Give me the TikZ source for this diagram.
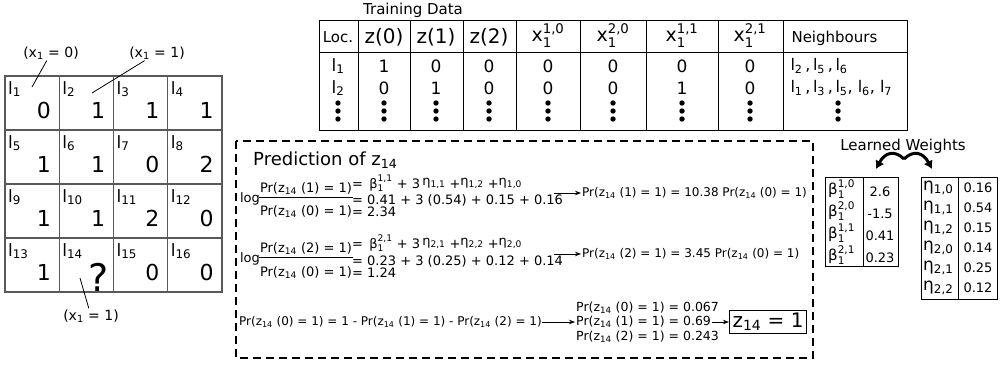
\documentclass[tikz,border=0pt]{standalone}
\usepackage{amsmath}
\usepackage{fontspec}
\setmainfont{DejaVu Sans}
\usetikzlibrary{arrows.meta}

\newcommand\prz[1]{Pr(z\textsubscript{14} (#1) = 1)}
\newcommand\lsub[1]{l\textsubscript{#1}}
\newcommand\xhead[1]{$\text{x}^{\text{#1}}_{\text{1}}$}
\newcommand\bw[1]{$\text{β}^{\text{#1}}_{\text{1}}$}
\newcommand\ew[1]{η\textsubscript{#1}}
\newcommand\fs[1]{\fontsize{#1}{#1}\selectfont}

\begin{document}
\begin{tikzpicture}[x=1pt,y=-1pt,
  gridline/.style={draw=black!65,line width=1.1pt},
  tabline/.style={draw=black,line width=1pt},
  celllab/.style={anchor=north west,inner sep=0pt,font=\fs{17}},
  cellval/.style={anchor=base east,inner sep=0pt,font=\fs{22}},
  note/.style={inner sep=1pt,font=\fs{14}},
  eqtext/.style={inner sep=1pt,font=\fs{13}},
  restext/.style={inner sep=1pt,font=\fs{12}},
  eqarrow/.style={-{Stealth[length=6pt,width=4.5pt]},line width=0.8pt},
  bigarrow/.style={-{Latex[length=8pt,width=10pt]},line width=3pt},
  predbox/.style={draw,line width=1.3pt,dash pattern=on 8pt off 5pt}]
\useasboundingbox (0,0) rectangle (1000,369);

% grid of locations
\foreach \v [count=\i from 0] in {0,1,1,1,1,1,0,2,1,1,2,0,1,,0,0} {
  \pgfmathtruncatemacro\c{mod(\i,4)}
  \pgfmathtruncatemacro\r{int(\i/4)}
  \pgfmathtruncatemacro\n{\i+1}
  \pgfmathsetmacro\cx{5+54.25*\c}
  \pgfmathsetmacro\cy{76+54*\r}
  \draw[gridline] (\cx,\cy) rectangle ++(54.25,54);
  \node[celllab] (l\n) at (\cx+3,\cy+5) {\lsub{\n}};
  \node[cellval] (v\n) at (\cx+46,\cy+42) {\v};
}
\node[anchor=base,inner sep=0pt,font=\fs{38}] (q14) at (99,291) {?};

\node[note] (ann0) at (51,53) {(x\textsubscript{1} = 0)};
\node[note] (ann1) at (157,53) {(x\textsubscript{1} = 1)};
\node[note] (ann2) at (91,316) {(x\textsubscript{1} = 1)};
\coordinate (in1) at (32,87);
\coordinate (in2) at (92,93);
\coordinate (in14) at (80,278);
\draw[line width=0.8pt] (ann0) -- (in1);
\draw[line width=0.8pt] (ann1) -- (in2);
\draw[line width=0.8pt] (ann2) -- (in14);

% training data
\node[font=\fs{15}] (train) at (413,10) {Training Data};
\draw[tabline] (319,21) rectangle (907,130);
\draw[tabline] (319,53) -- (907,53);
\foreach \x in {358,410,463,516,580,646,718,783}
  \draw[tabline] (\x,21) -- (\x,130);
\node[font=\fs{15}] (hloc) at (338,37) {Loc.};
\foreach \x/\k in {384/0,436/1,489/2}
  \node[font=\fs{20}] (hz\k) at (\x,37) {z(\k)};
\foreach \x/\s [count=\k] in {548/{1,0},613/{2,0},682/{1,1},750/{2,1}}
  \node[font=\fs{19}] (hx\k) at (\x,36) {\xhead{\s}};
\node[anchor=west,font=\fs{15}] (hnb) at (788,38) {Neighbours};
\node[font=\fs{17}] (row1) at (338,66) {\lsub{1}};
\node[font=\fs{17}] (row2) at (338,88) {\lsub{2}};
\foreach \x/\a/\b in {384/1/0,436/0/1,489/0/0,548/0/0,613/0/0,682/0/1,750/0/0} {
  \node[font=\fs{17}] (a\x) at (\x,66) {\a};
  \node[font=\fs{17}] (b\x) at (\x,88) {\b};
}
\node[anchor=west,font=\fs{16}] (nb1) at (787,66) {\lsub{2}\,,\,\lsub{5}\,,\,\lsub{6}};
\node[anchor=west,font=\fs{16}] (nb2) at (787,88) {\lsub{1}\,,\,\lsub{3}\,,\,\lsub{5}, \lsub{6}, \lsub{7}};
\foreach \x in {338,384,436,489,548,613,682,750,838}
  \foreach \d in {103,111,119}
    \fill (\x,\d) circle (2.7pt);

% prediction
\draw[predbox] (236,141) rectangle (813,358);
\node[anchor=base west,inner sep=0pt,font=\fs{18}] (pred) at (253,165) {Prediction of z\textsubscript{14}};

\node[eqtext,anchor=base] (log1) at (250,202) {log};
\node[eqtext,anchor=base] (num1) at (306,192) {\prz{1}};
\node[eqtext,anchor=base] (den1) at (306,215) {\prz{0}};
\draw[line width=0.8pt] ([yshift=-2pt]num1.south west) -- ([yshift=-2pt]num1.south east);
\node[eqtext,anchor=base west] (r1a) at (351,188) {= \,\bw{1,1} + 3\,\raisebox{3pt}{\ew{1,1}} +\raisebox{3pt}{\ew{1,2}} +\raisebox{3pt}{\ew{1,0}}};
\node[eqtext,anchor=base west] (r1b) at (351,204) {= 0.41 + 3 (0.54) + 0.15 + 0.16};
\node[eqtext,anchor=base west] (r1c) at (351,216) {= 2.34};
\coordinate (a1) at (554,193);
\node[restext,anchor=west] (res1) at (581,193) {\prz{1} = 10.38 \prz{0}};
\draw[eqarrow] (a1) -- (res1);

\node[eqtext,anchor=base] (log2) at (250,262) {log};
\node[eqtext,anchor=base] (num2) at (306,252) {\prz{2}};
\node[eqtext,anchor=base] (den2) at (306,276) {\prz{0}};
\draw[line width=0.8pt] ([yshift=-2pt]num2.south west) -- ([yshift=-2pt]num2.south east);
\node[eqtext,anchor=base west] (r2a) at (351,248) {= \,\bw{2,1} + 3\,\raisebox{3pt}{\ew{2,1}} +\raisebox{3pt}{\ew{2,2}} +\raisebox{3pt}{\ew{2,0}}};
\node[eqtext,anchor=base west] (r2b) at (351,265) {= 0.23 + 3 (0.25) + 0.12 + 0.14};
\node[eqtext,anchor=base west] (r2c) at (351,277) {= 1.24};
\coordinate (a2) at (554,254);
\node[restext,anchor=west] (res2) at (581,254) {\prz{2} = 3.45 \prz{0}};
\draw[eqarrow] (a2) -- (res2);

\node[eqtext,inner sep=0pt,anchor=west,font=\fs{12}] (e3) at (239,322) {\prz{0} = 1 - \prz{1} - \prz{2}};
\node[eqtext,anchor=west,font=\fs{12.5}] (p0) at (575,308) {\prz{0} = 0.067};
\node[eqtext,anchor=west,font=\fs{12.5}] (p1) at (575,322) {\prz{1} = 0.69};
\node[eqtext,anchor=west,font=\fs{12.5}] (p2) at (575,337) {\prz{2} = 0.243};
\node[draw,line width=1.2pt,inner sep=3pt,font=\fs{20}] (z14) at (768,322) {z\textsubscript{14} = 1};
\draw[eqarrow] (e3) -- (p1);
\draw[eqarrow] (p1) -- (z14);

% learned weights
\node[font=\fs{15}] (lw) at (903,146) {Learned Weights};
\coordinate (fork) at (904,159);
\coordinate (wl) at (876,169);
\coordinate (wr) at (932,169);
\draw[bigarrow] (fork) .. controls (895,150) and (885,152) .. (wl);
\draw[bigarrow] (fork) .. controls (913,150) and (923,152) .. (wr);

\draw[tabline] (825,177) rectangle (898,266);
\draw[tabline] (863,177) -- (863,266);
\foreach \s/\v/\y [count=\k] in {{1,0}/2.6/189,{2,0}/-1.5/211,{1,1}/0.41/233,{2,1}/0.23/255} {
  \node[anchor=west,inner sep=0pt,font=\fs{15}] (beta\k) at (828,\y) {\bw{\s}};
  \node[font=\fs{13}] (bv\k) at (880,\y+3) {\v};
}
\draw[tabline] (921,177) rectangle (997,299);
\draw[tabline] (958,177) -- (958,299);
\foreach \s/\v/\y [count=\k] in {{1,0}/0.16/188,{1,1}/0.54/208,{1,2}/0.15/228,{2,0}/0.14/248,{2,1}/0.25/268,{2,2}/0.12/288} {
  \node[anchor=west,inner sep=0pt,font=\fs{17}] (eta\k) at (923,\y) {\ew{\s}};
  \node[font=\fs{13}] (ev\k) at (978,\y) {\v};
}
\end{tikzpicture}
\end{document}
